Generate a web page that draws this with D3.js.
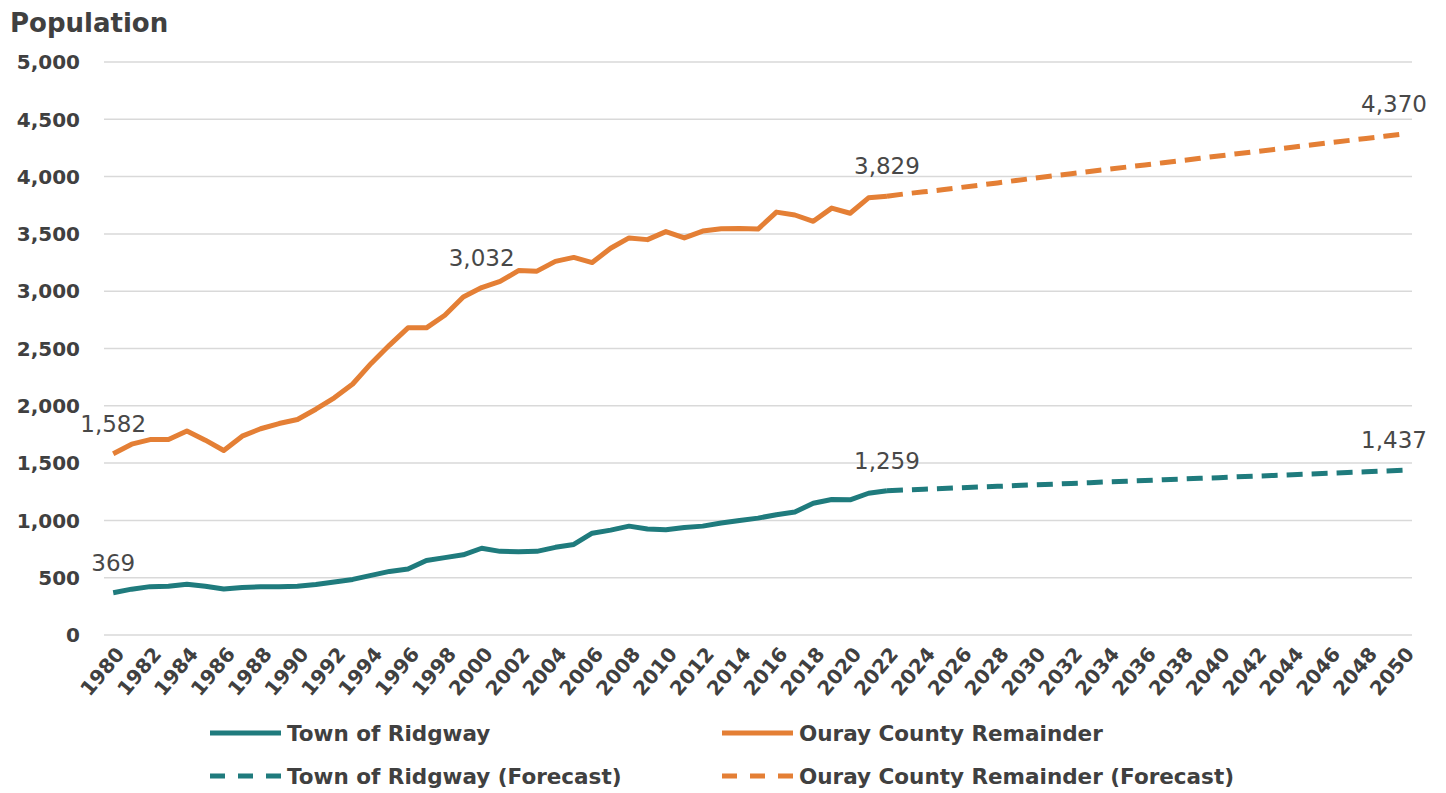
<!DOCTYPE html>
<html>
<head>
<meta charset="utf-8">
<script src="https://cdn.jsdelivr.net/npm/d3@7"></script>
<style>
  body { margin: 0; background: #fff; }
  svg { display: block; }
</style>
</head>
<body>
<script>
// years on the category axis
const years = d3.range(1980, 2051);
const histYears = d3.range(1980, 2023);
const fcstYears = d3.range(2022, 2051);

// Town of Ridgway, 1980-2022
const ridgway = [369, 400, 422, 425, 443, 425, 402, 415, 420, 420,
  425, 440, 462, 485, 520, 555, 575, 650, 675, 700,
  757, 730, 727, 730, 765, 790, 888, 915, 950, 925,
  918, 938, 950, 978, 1000, 1020, 1050, 1073, 1150, 1183,
  1180, 1237, 1259];

// Ouray County Remainder, 1980-2022
const ouray = [1582, 1665, 1705, 1705, 1780, 1700, 1610, 1735, 1800, 1845,
  1880, 1970, 2070, 2190, 2370, 2530, 2680, 2680, 2790, 2950,
  3032, 3085, 3180, 3175, 3260, 3295, 3250, 3375, 3465, 3450,
  3520, 3465, 3525, 3545, 3548, 3542, 3690, 3665, 3610, 3725,
  3680, 3815, 3829];

// forecasts, 2022-2050
const ridgwayFcst = [1259, 1266, 1272, 1278, 1285, 1291, 1297, 1304, 1310, 1316,
  1323, 1329, 1336, 1342, 1348, 1355, 1361, 1367, 1373, 1380,
  1386, 1392, 1399, 1405, 1411, 1418, 1424, 1431, 1437];
const ourayFcst = [3829, 3850, 3867, 3885, 3905, 3925, 3945, 3966, 3986, 4006,
  4025, 4045, 4064, 4083, 4102, 4121, 4140, 4160, 4180, 4199,
  4218, 4237, 4256, 4275, 4295, 4314, 4333, 4352, 4370];

const yTicks = [0, 500, 1000, 1500, 2000, 2500, 3000, 3500, 4000, 4500, 5000];

const series = [
  {name: "Town of Ridgway", years: histYears, values: ridgway, color: "#1f7b7d", dashed: false},
  {name: "Ouray County Remainder", years: histYears, values: ouray, color: "#e47f35", dashed: false},
  {name: "Town of Ridgway (Forecast)", years: fcstYears, values: ridgwayFcst, color: "#1f7b7d", dashed: true},
  {name: "Ouray County Remainder (Forecast)", years: fcstYears, values: ourayFcst, color: "#e47f35", dashed: true}
];

// which points get a value label: [series index, year]
const labelled = [[0, 1980], [0, 2022], [2, 2050], [1, 1980], [1, 2000], [1, 2022], [3, 2050]];

const width = 1446, height = 793;
const margin = {top: 62, right: 34, bottom: 158, left: 104};

const svg = d3.select("body").append("svg")
  .attr("width", width)
  .attr("height", height)
  .attr("font-family", "DejaVu Sans, sans-serif");

const x = d3.scalePoint()
  .domain(years)
  .range([margin.left, width - margin.right])
  .padding(0.5);

const y = d3.scaleLinear()
  .domain([0, 5000])
  .range([height - margin.bottom, margin.top]);

// gridlines + y labels
svg.append("g")
  .selectAll("line")
  .data(yTicks)
  .join("line")
  .attr("x1", margin.left)
  .attr("x2", width - margin.right)
  .attr("y1", d => y(d))
  .attr("y2", d => y(d))
  .attr("stroke", "#d9d9d9")
  .attr("stroke-width", 1.5);

svg.append("g")
  .selectAll("text")
  .data(yTicks)
  .join("text")
  .attr("x", 80)
  .attr("y", d => y(d))
  .attr("dy", "0.36em")
  .attr("text-anchor", "end")
  .attr("font-size", 20)
  .attr("font-weight", "bold")
  .attr("fill", "#404040")
  .text(d3.format(","));

svg.append("text")
  .attr("x", 10)
  .attr("y", 32)
  .attr("font-size", 26)
  .attr("font-weight", "bold")
  .attr("fill", "#404040")
  .text("Population");

// x labels, every other year, rotated
svg.append("g")
  .selectAll("text")
  .data(years.filter(d => d % 2 === 0))
  .join("text")
  .attr("transform", d => `translate(${x(d) + 7},${y(0) + 15}) rotate(-50)`)
  .attr("text-anchor", "end")
  .attr("dy", "0.35em")
  .attr("font-size", 20)
  .attr("font-weight", "bold")
  .attr("fill", "#404040")
  .text(d => d);

const line = d3.line()
  .x(d => x(d[0]))
  .y(d => y(d[1]));

svg.append("g")
  .selectAll("path")
  .data(series)
  .join("path")
  .attr("fill", "none")
  .attr("stroke", d => d.color)
  .attr("stroke-width", 5)
  .attr("stroke-linejoin", "round")
  .attr("stroke-dasharray", d => d.dashed ? "16 9" : null)
  .attr("d", d => line(d.years.map((yr, i) => [yr, d.values[i]])));

// value labels
svg.append("g")
  .selectAll("text")
  .data(labelled)
  .join("text")
  .attr("x", d => Math.min(x(d[1]), 1394))
  .attr("y", d => {
    const s = series[d[0]];
    return y(s.values[s.years.indexOf(d[1])]) - 22;
  })
  .attr("text-anchor", "middle")
  .attr("font-size", 23)
  .attr("fill", "#484848")
  .text(d => {
    const s = series[d[0]];
    return d3.format(",")(s.values[s.years.indexOf(d[1])]);
  });

// legend, two columns, two rows
const legend = svg.append("g")
  .selectAll("g")
  .data(series)
  .join("g")
  .attr("transform", (d, i) => `translate(${i % 2 === 0 ? 210 : 722},${i < 2 ? 733 : 776})`);

legend.append("line")
  .attr("x1", 0)
  .attr("x2", 71)
  .attr("stroke", d => d.color)
  .attr("stroke-width", 5)
  .attr("stroke-dasharray", d => d.dashed ? "15 13" : null);

legend.append("text")
  .attr("x", 77)
  .attr("dy", "0.36em")
  .attr("font-size", 21.5)
  .attr("font-weight", "bold")
  .attr("fill", "#404040")
  .text(d => d.name);
</script>
</body>
</html>
